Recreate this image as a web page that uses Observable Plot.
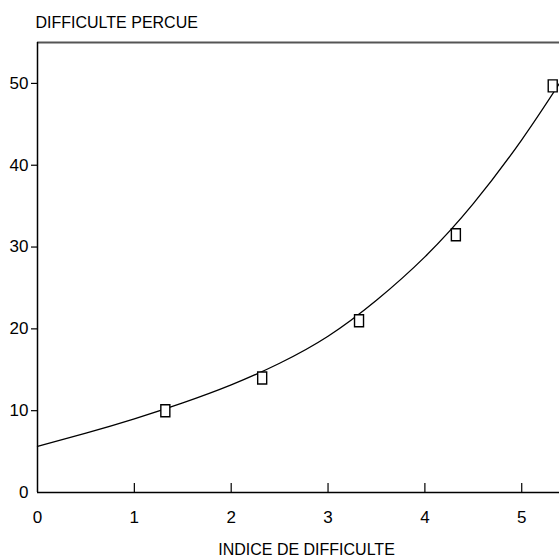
<!DOCTYPE html>
<html>
<head>
<meta charset="utf-8">
<script src="https://cdn.jsdelivr.net/npm/d3@7"></script>
<script src="https://cdn.jsdelivr.net/npm/@observablehq/plot@0.6"></script>
<style>
  html, body { margin: 0; padding: 0; background: #fff; }
  #chart svg { display: block; }
</style>
</head>
<body>
<div id="chart"></div>
<script>
// Observed points
const obsX = [1.32, 2.32, 3.32, 4.32, 5.32];
const obsY = [10.0, 14.0, 21.0, 31.5, 49.7];

// Fitted curve
const curveX = [0, 0.5, 1.0, 1.5, 2.0, 2.5, 3.0, 3.5, 4.0, 4.5, 5.0, 5.39];
const curveY = [5.65, 7.25, 9.0, 10.95, 13.15, 15.8, 19.1, 23.5, 28.8, 35.3, 43.1, 50.0];

// Ticks
const xTicks = [0, 1, 2, 3, 4, 5];
const yTicks = [0, 10, 20, 30, 40, 50];

const xTitle = "INDICE DE DIFFICULTE";
const yTitle = "DIFFICULTE PERCUE";

const points = obsX.map((x, i) => ({x, y: obsY[i]}));
const curve = curveX.map((x, i) => ({x, y: curveY[i]}));

const rectSymbol = {
  draw(ctx, size) {
    const w = 4.5, h = 6;
    ctx.moveTo(-w, -h);
    ctx.lineTo(w, -h);
    ctx.lineTo(w, h);
    ctx.lineTo(-w, h);
    ctx.closePath();
  }
};

const font = "'Liberation Sans', Arial, sans-serif";

const chart = Plot.plot({
  width: 559,
  height: 557,
  marginTop: 42,
  marginLeft: 37,
  marginRight: 0,
  marginBottom: 65,
  style: {fontFamily: font, fontSize: "16px", color: "#000", background: "#fff"},
  x: {domain: [0, 5.39]},
  y: {domain: [0, 55]},
  marks: [
    Plot.ruleY([55], {stroke: "#555", strokeWidth: 2}),
    Plot.axisY({ticks: yTicks, tickFormat: d3.format("d"), tickSize: 0, tickPadding: 9, label: null, fontSize: 17}),
    Plot.axisY({ticks: yTicks.filter(d => d > 0), tickSize: 6, text: null, label: null, strokeWidth: 1.2}),
    Plot.axisX({ticks: xTicks, tickFormat: d3.format("d"), tickSize: 0, tickPadding: 18, label: null, fontSize: 17}),
    Plot.axisX({ticks: xTicks.filter(d => d > 0), tickSize: -9, text: null, label: null, strokeWidth: 1.2}),
    Plot.ruleX([0], {stroke: "#000", strokeWidth: 1.5}),
    Plot.ruleY([0], {stroke: "#000", strokeWidth: 1.5}),
    Plot.line(curve, {x: "x", y: "y", curve: "natural", stroke: "#000", strokeWidth: 1.3}),
    Plot.dot(points, {x: "x", y: "y", symbol: rectSymbol, r: 5, fill: "#fff", stroke: "#000", strokeWidth: 1.4}),
    Plot.text([xTitle], {frameAnchor: "bottom", dx: 8, dy: 62, text: d => d, fontSize: 16}),
    Plot.text([yTitle], {frameAnchor: "top-left", textAnchor: "start", dx: -2, dy: -26, text: d => d, fontSize: 16})
  ]
});

document.getElementById("chart").appendChild(chart);
</script>
</body>
</html>
